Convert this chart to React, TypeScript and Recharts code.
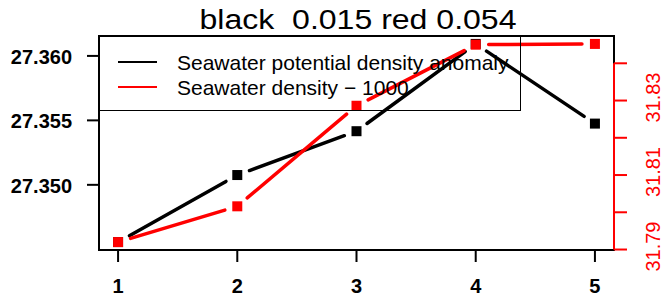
import React from 'react';
import { ComposedChart, Line, XAxis, YAxis, Legend, ReferenceArea, ReferenceLine } from 'recharts';

// station index along x
const stations = [1, 2, 3, 4, 5];
// black series, left axis
const potentialDensityAnomaly = [27.34556, 27.35076, 27.35416, 27.36093, 27.35475];
// red series, right axis
const densityMinus1000 = [31.792, 31.8016, 31.8286, 31.845, 31.8452];

const seriesNames = ['Seawater potential density anomaly', 'Seawater density \u2212 1000'];
const seriesColors = ['#000000', '#ff0000'];
const title = 'black  0.015 red 0.054';

const xTicks = [1, 2, 3, 4, 5];
const leftTicks = [27.35, 27.355, 27.36];
const rightTicks = [31.79, 31.8, 31.81, 31.82, 31.83, 31.84];
const rightLabelled = [31.79, 31.81, 31.83];

const FONT = '"Liberation Sans", Arial, Helvetica, sans-serif';

// R style axis range: data range plus 4% each side
const pad = (v: number[]): [number, number] => {
  const lo = Math.min(...v);
  const hi = Math.max(...v);
  const e = (hi - lo) * 0.04;
  return [lo - e, hi + e];
};

const xDomain = pad(stations);
const leftDomain = pad(potentialDensityAnomaly);
const rightDomain = pad(densityMinus1000);

const data = stations.map((x, i) => ({
  x,
  sigma: potentialDensityAnomaly[i],
  rho: densityMinus1000[i],
}));

const GAP = 13;

// type="b": squares with line segments that stop short of each point
const GapDot = (props: any) => {
  const { cx, cy, index, points, color } = props;
  if (cx == null || cy == null) return <g />;
  const next = points && points[index + 1];
  let seg = null;
  if (next && next.x != null && next.y != null) {
    const dx = next.x - cx;
    const dy = next.y - cy;
    const len = Math.hypot(dx, dy);
    if (len > GAP * 2) {
      const ux = dx / len;
      const uy = dy / len;
      seg = (
        <line
          x1={cx + ux * GAP}
          y1={cy + uy * GAP}
          x2={next.x - ux * GAP}
          y2={next.y - uy * GAP}
          stroke={color}
          strokeWidth={3.5}
          strokeLinecap="round"
        />
      );
    }
  }
  return (
    <g>
      {seg}
      <rect x={cx - 5} y={cy - 5} width={10} height={10} fill={color} />
    </g>
  );
};

const XTick = (props: any) => (
  <text x={props.x} y={props.y + 31} textAnchor="middle" fontFamily={FONT} fontWeight="bold" fontSize={20} fill="#000">
    {props.payload.value}
  </text>
);

const LeftTick = (props: any) => (
  <text x={props.x - 15} y={props.y + 8} textAnchor="end" fontFamily={FONT} fontWeight="bold" fontSize={20} fill="#000">
    {Number(props.payload.value).toFixed(3)}
  </text>
);

const RightTick = (props: any) => {
  const v = props.payload.value;
  if (!rightLabelled.some((t) => Math.abs(t - v) < 1e-9)) return <g />;
  return (
    <text
      transform={`translate(${props.x + 33}, ${props.y - 3}) rotate(-90)`}
      textAnchor="middle"
      fontFamily={FONT}
      fontSize={20}
      fill="#ff0000"
    >
      {v.toFixed(2)}
    </text>
  );
};

const LegendBox = () => (
  <svg width={423} height={76} style={{ display: 'block' }}>
    <rect x={0.5} y={0.5} width={421} height={74} fill="none" stroke="#000" strokeWidth={1} />
    {seriesNames.map((name, i) => (
      <g key={name}>
        <line x1={19} x2={58} y1={26 + i * 25} y2={26 + i * 25} stroke={seriesColors[i]} strokeWidth={2} />
        <text x={78} y={34 + i * 25} fontFamily={FONT} fontSize={21} fill="#000">
          {name}
        </text>
      </g>
    ))}
  </svg>
);

export default function App() {
  return (
    <div style={{ position: 'absolute', left: 0, top: 0, width: 663, height: 297, background: '#fff' }}>
      <ComposedChart width={663} height={297} data={data} margin={{ top: 36, right: 0, bottom: 0, left: 0 }}>
        <XAxis
          dataKey="x"
          type="number"
          domain={xDomain}
          allowDataOverflow
          ticks={xTicks}
          interval={0}
          height={47}
          axisLine={false}
          tickSize={12}
          tickMargin={0}
          tickLine={{ stroke: '#000', strokeWidth: 2 }}
          tick={<XTick />}
        />
        <YAxis
          yAxisId="left"
          type="number"
          domain={leftDomain}
          allowDataOverflow
          ticks={leftTicks}
          interval={0}
          width={99}
          axisLine={false}
          tickSize={12}
          tickMargin={0}
          tickLine={{ stroke: '#000', strokeWidth: 2 }}
          tick={<LeftTick />}
        />
        <YAxis
          yAxisId="right"
          orientation="right"
          type="number"
          domain={rightDomain}
          allowDataOverflow
          ticks={rightTicks}
          interval={0}
          width={49}
          axisLine={false}
          tickSize={13}
          tickMargin={0}
          tickLine={{ stroke: '#ff0000', strokeWidth: 2 }}
          tick={<RightTick />}
        />
        <ReferenceArea
          yAxisId="left"
          x1={xDomain[0]}
          x2={xDomain[1]}
          y1={leftDomain[0]}
          y2={leftDomain[1]}
          fill="none"
          stroke="#000"
          strokeWidth={2}
          ifOverflow="visible"
        />
        <ReferenceLine
          yAxisId="right"
          segment={[
            { x: xDomain[1], y: rightTicks[0] },
            { x: xDomain[1], y: rightTicks[rightTicks.length - 1] },
          ]}
          stroke="#ff0000"
          strokeWidth={2}
          ifOverflow="visible"
        />
        <Line
          yAxisId="left"
          dataKey="sigma"
          name={seriesNames[0]}
          stroke={seriesColors[0]}
          strokeOpacity={0}
          dot={(p: any) => <GapDot {...p} key={`b${p.index}`} color={seriesColors[0]} />}
          activeDot={false}
          isAnimationActive={false}
        />
        <Line
          yAxisId="right"
          dataKey="rho"
          name={seriesNames[1]}
          stroke={seriesColors[1]}
          strokeOpacity={0}
          dot={(p: any) => <GapDot {...p} key={`r${p.index}`} color={seriesColors[1]} />}
          activeDot={false}
          isAnimationActive={false}
        />
        <Legend
          layout="vertical"
          align="center"
          verticalAlign="middle"
          wrapperStyle={{ left: 99, top: 36, width: 423, height: 76, margin: 0, padding: 0 }}
          content={() => <LegendBox />}
        />
      </ComposedChart>
      <svg width={663} height={36} style={{ position: 'absolute', left: 0, top: 0, pointerEvents: 'none' }}>
        <text
          x={358}
          y={28.5}
          textAnchor="middle"
          fontFamily={FONT}
          fontSize={27}
          textLength={317}
          lengthAdjust="spacingAndGlyphs"
          style={{ whiteSpace: 'pre' }}
          fill="#000"
        >
          {title}
        </text>
      </svg>
    </div>
  );
}
